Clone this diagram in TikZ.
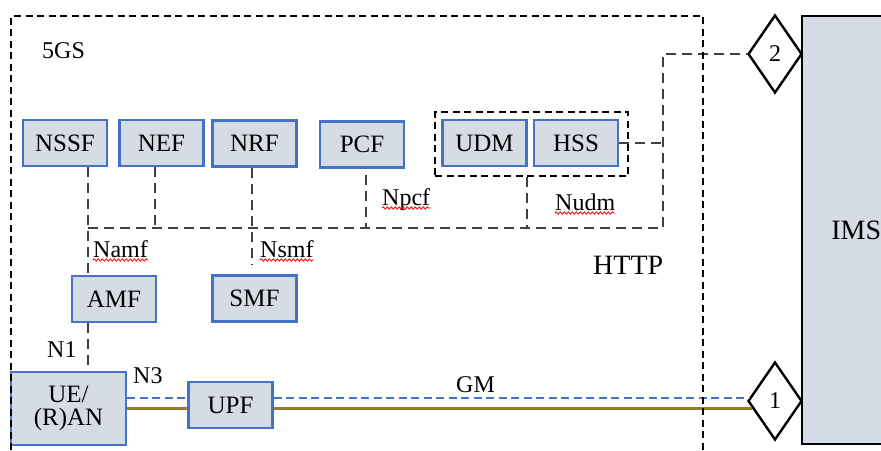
\documentclass[tikz,border=0pt]{standalone}
\usepackage{fontspec}
\setmainfont{Liberation Serif}
\usetikzlibrary{shapes.geometric,decorations.pathmorphing}

\definecolor{nfedge}{RGB}{68,114,196}
\definecolor{nffill}{RGB}{214,220,229}
\definecolor{busgray}{RGB}{64,64,64}
\definecolor{gmgold}{RGB}{150,124,46}

\begin{document}
\begin{tikzpicture}[x=1pt, y=-1pt,
    nf/.style={draw=nfedge, line width=2.4pt, fill=nffill, minimum width=84pt,
        minimum height=46pt, inner sep=0pt, font=\fontsize{25}{23}\selectfont},
    frame/.style={line width=2.6pt, dash pattern=on 7pt off 4.5pt},
    bus/.style={busgray, line width=2.6pt, dash pattern=on 10pt off 6pt},
    gmdash/.style={nfedge, line width=2.4pt, dash pattern=on 8pt off 4.5pt},
    gmline/.style={gmgold, line width=3pt},
    refpt/.style={draw, diamond, line width=2.4pt, fill=white, minimum width=54pt,
        minimum height=78pt, inner sep=0pt, font=\fontsize{24}{26}\selectfont},
    lbl/.style={inner sep=0pt, font=\fontsize{24}{26}\selectfont},
    squig/.style={red, line width=0.8pt, decorate,
        decoration={snake, amplitude=1.2pt, segment length=4pt}}
]
\useasboundingbox (0,0) rectangle (881,450);

% IMS side
\node[draw, line width=2.4pt, fill=nffill, anchor=north west, minimum width=108pt,
    minimum height=428pt, font=\fontsize{28}{30}\selectfont] (ims) at (801,15) {IMS};
\node[refpt] (ims2) at (775,54) {2};
\node[refpt] (ims1) at (775,401) {1};

% Network functions
\node[nf] (nssf) at (65,143) {NSSF};
\node[nf] (nef) at (161.5,143) {NEF};
\node[nf] (nrf) at (254.5,143.5) {NRF};
\node[nf] (pcf) at (362,144.5) {PCF};
\node[nf] (udm) at (484.5,143) {UDM};
\node[nf] (hss) at (576,143) {HSS};
\node[draw, line width=2.6pt, dash pattern=on 7pt off 4.5pt, minimum width=193pt,
    minimum height=64pt] (udr) at (531.5,144) {};
\node[nf] (amf) at (114,299) {AMF};
\node[nf] (smf) at (254.5,298.5) {SMF};
\node[nf, minimum width=115pt, minimum height=73pt, align=center] (ue) at (68.5,408.5) {UE/\\(R)AN};
\node[nf] (upf) at (230.5,405) {UPF};

% Service bus
\coordinate (b1) at (88,228);
\coordinate (b2) at (155,228);
\coordinate (b3) at (252,228);
\coordinate (b4) at (366,228);
\coordinate (b5) at (527,228);
\coordinate (b6) at (663,228);
\draw[bus] (b1) -- (b6) |- (ims2.west);
\draw[bus] (nssf.south -| b1) -- (amf.north -| b1);
\draw[bus] (amf.south -| b1) -- (ue.north -| b1);
\draw[bus] (nef.south -| b2) -- (b2);
\draw[bus] (nrf.south -| b3) -- ([yshift=9pt]smf.north -| b3);
\draw[bus] ([yshift=-6pt]pcf.south -| b4) -- (b4);
\draw[bus] (udr.south -| b5) -- (b5);
\draw[bus] (hss.east) -- (hss.east -| b6);

% User plane (GM)
\draw[gmdash] (ims1.173 -| ue.east) -- (ims1.173 -| upf.west)
    (ims1.173 -| upf.east) -- (ims1.173);
\draw[gmline] (ims1.198 -| ue.east) -- (ims1.198 -| upf.west)
    (ims1.198 -| upf.east) -- (ims1.198);

% 5GS frame
\draw[frame] (11,450) |- (703,16) -- (703,450);

% Labels
\node[lbl, anchor=base west] (t5gs) at (42,58) {5GS};
\node[lbl, anchor=base west] (namf) at (93,257) {Namf};
\node[lbl, anchor=base west] (nsmf) at (260,257) {Nsmf};
\node[lbl, anchor=base west] (npcf) at (382,205) {Npcf};
\node[lbl, anchor=base west] (nudm) at (555,210) {Nudm};
\node[lbl, anchor=base west, font=\fontsize{28}{30}\selectfont] (http) at (593,274) {HTTP};
\node[lbl, anchor=base west] (n1) at (47,357) {N1};
\node[lbl, anchor=base west] (n3) at (133,383) {N3};
\node[lbl, anchor=base west] (gm) at (456,392) {GM};

% Spelling marks
\draw[squig] ([yshift=-3pt]namf.base west) -- ([yshift=-3pt]namf.base east);
\draw[squig] ([yshift=-3pt]nsmf.base west) -- ([yshift=-3pt]nsmf.base east);
\draw[squig] ([yshift=-3pt]npcf.base west) -- ([yshift=-3pt]npcf.base east);
\draw[squig] ([yshift=-3pt]nudm.base west) -- ([yshift=-3pt]nudm.base east);
\end{tikzpicture}
\end{document}
